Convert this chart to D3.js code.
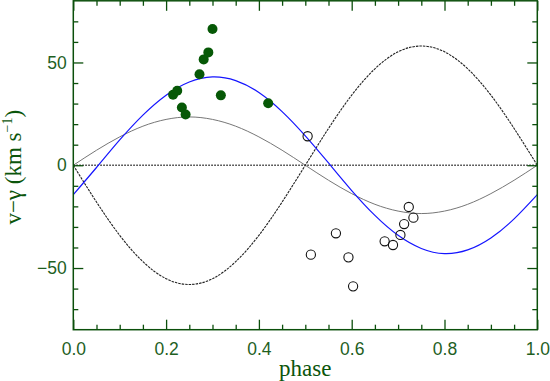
<!DOCTYPE html>
<html>
<head>
<meta charset="utf-8">
<script src="https://cdn.jsdelivr.net/npm/d3@7"></script>
<style>
    body { margin: 0; background: #fff; }
    svg { display: block; }
    .tick text { font-family: "Liberation Sans", Arial, sans-serif; font-size: 17.5px; fill: #1f5f1f; }
    .axis path { display: none; }
    .axis line { stroke: #0b4f0b; stroke-width: 1.3; }
    .label { font-family: "Liberation Serif", "Times New Roman", serif; font-size: 23px; fill: #0b550b; }
</style>
</head>
<body>
<script>
    const WIDTH = 550, HEIGHT = 381;
    const margin = {left: 73.3, right: 12.7, top: 0.8, bottom: 51.3};

    // model curves, read at phase steps of 0.05
    const PHASE_GRID = [0, 0.05, 0.1, 0.15, 0.2, 0.25, 0.3, 0.35, 0.4, 0.45, 0.5,
        0.55, 0.6, 0.65, 0.7, 0.75, 0.8, 0.85, 0.9, 0.95, 1.0];
    const CURVE_BLUE = [-14.3, -1.1, 12.3, 24.4, 34.1, 40.5, 43.0, 41.2, 35.4, 26.1, 14.3,
        1.1, -12.3, -24.4, -34.1, -40.5, -43.0, -41.2, -35.4, -26.1, -14.3];
    const CURVE_GRAY = [0, 7.3, 13.8, 19.0, 22.3, 23.5, 22.3, 19.0, 13.8, 7.3, 0,
        -7.3, -13.8, -19.0, -22.3, -23.5, -22.3, -19.0, -13.8, -7.3, 0];
    const CURVE_BLACK = [0, -17.9, -34.1, -46.9, -55.2, -58.0, -55.2, -46.9, -34.1, -17.9, 0,
        17.9, 34.1, 46.9, 55.2, 58.0, 55.2, 46.9, 34.1, 17.9, 0];

    // measured velocities
    const PHASE_FILLED = [0.215, 0.224, 0.234, 0.242, 0.272, 0.281, 0.291, 0.300, 0.318, 0.420];
    const VEL_FILLED = [34.3, 36.2, 28.1, 24.7, 44.3, 51.5, 54.9, 66.3, 34.0, 30.2];
    const PHASE_OPEN = [0.505, 0.512, 0.566, 0.593, 0.603, 0.671, 0.689, 0.705, 0.713, 0.723, 0.733];
    const VEL_OPEN = [14.1, -43.5, -33.1, -44.8, -58.9, -37.0, -38.8, -33.9, -28.6, -20.3, -25.5];

    const X_MAJOR = [0, 0.2, 0.4, 0.6, 0.8, 1.0];
    const X_MINOR = [0.05, 0.1, 0.15, 0.25, 0.3, 0.35, 0.45, 0.5, 0.55, 0.65, 0.7, 0.75, 0.85, 0.9, 0.95];
    const Y_MAJOR = [-50, 0, 50];
    const Y_MINOR = [-70, -60, -40, -30, -20, -10, 10, 20, 30, 40, 60, 70];

    var w = WIDTH - margin.left - margin.right;
    var h = HEIGHT - margin.top - margin.bottom;

    var x = d3.scaleLinear().domain([0, 1]).range([0, w]);
    var y = d3.scaleLinear().domain([-80, 80]).range([h, 0]);

    var svg = d3.select("body").append("svg")
        .attr("width", WIDTH)
        .attr("height", HEIGHT);

    var chart = svg.append("g")
        .attr("transform", "translate(" + margin.left + "," + margin.top + ")");

    var line = d3.line()
        .x(function(d) { return x(d[0]); })
        .y(function(d) { return y(d[1]); })
        .curve(d3.curveNatural);

    function pairs(ys) {
        return PHASE_GRID.map(function(p, i) { return [p, ys[i]]; });
    }

    // gray curve
    chart.append("path")
        .attr("d", line(pairs(CURVE_GRAY)))
        .attr("fill", "none")
        .attr("stroke", "#777")
        .attr("stroke-width", 1);

    // black dotted curve
    chart.append("path")
        .attr("d", line(pairs(CURVE_BLACK)))
        .attr("fill", "none")
        .attr("stroke", "#222")
        .attr("stroke-width", 1.1)
        .attr("stroke-dasharray", "2.5,1");

    // zero line
    chart.append("line")
        .attr("x1", x(0)).attr("x2", x(1))
        .attr("y1", y(0)).attr("y2", y(0))
        .attr("stroke", "#333")
        .attr("stroke-width", 1.5)
        .attr("stroke-dasharray", "1.5,1.5");

    // blue curve
    chart.append("path")
        .attr("d", line(pairs(CURVE_BLUE)))
        .attr("fill", "none")
        .attr("stroke", "#1515ff")
        .attr("stroke-width", 1.2);

    // filled points
    chart.append("g")
        .selectAll("circle")
        .data(PHASE_FILLED)
        .enter()
        .append("circle")
        .attr("cx", function(d) { return x(d); })
        .attr("cy", function(d, i) { return y(VEL_FILLED[i]); })
        .attr("r", 5)
        .attr("fill", "#065806");

    // open points
    chart.append("g")
        .selectAll("circle")
        .data(PHASE_OPEN)
        .enter()
        .append("circle")
        .attr("cx", function(d) { return x(d); })
        .attr("cy", function(d, i) { return y(VEL_OPEN[i]); })
        .attr("r", 4.6)
        .attr("fill", "none")
        .attr("stroke", "#111")
        .attr("stroke-width", 1.1);

    // axes, ticks pointing inward
    function addAxis(axis, tx, ty) {
        chart.append("g")
            .attr("class", "axis")
            .attr("transform", "translate(" + tx + "," + ty + ")")
            .call(axis);
    }

    addAxis(d3.axisBottom(x).tickValues(X_MAJOR).tickSize(-10).tickPadding(12.5)
        .tickFormat(d3.format(".1f")), 0, h);
    addAxis(d3.axisBottom(x).tickValues(X_MINOR).tickSize(-5).tickFormat(""), 0, h);
    addAxis(d3.axisTop(x).tickValues(X_MAJOR).tickSize(-10).tickFormat(""), 0, 0);
    addAxis(d3.axisTop(x).tickValues(X_MINOR).tickSize(-5).tickFormat(""), 0, 0);

    addAxis(d3.axisLeft(y).tickValues(Y_MAJOR).tickSize(-10).tickPadding(6.5)
        .tickFormat(function(d) { return d < 0 ? "\u2212" + Math.abs(d) : d; }), 0, 0);
    addAxis(d3.axisLeft(y).tickValues(Y_MINOR).tickSize(-5).tickFormat(""), 0, 0);
    addAxis(d3.axisRight(y).tickValues(Y_MAJOR).tickSize(-10).tickFormat(""), w, 0);
    addAxis(d3.axisRight(y).tickValues(Y_MINOR).tickSize(-5).tickFormat(""), w, 0);

    // frame
    chart.append("rect")
        .attr("width", w)
        .attr("height", h)
        .attr("fill", "none")
        .attr("stroke", "#0b4f0b")
        .attr("stroke-width", 1.5);

    // axis titles
    svg.append("text")
        .attr("class", "label")
        .attr("x", margin.left + w / 2)
        .attr("y", 375.7)
        .attr("text-anchor", "middle")
        .text("phase");

    var ylab = svg.append("text")
        .attr("class", "label")
        .attr("transform", "translate(20.7," + (margin.top + h / 2 + 2) + ") rotate(-90)")
        .attr("text-anchor", "middle");
    ylab.append("tspan").text("v\u2212\u03b3 (km s");
    ylab.append("tspan").attr("dy", -9).attr("font-size", "14px").text("\u22121");
    ylab.append("tspan").attr("dy", 9).text(")");
</script>
</body>
</html>
